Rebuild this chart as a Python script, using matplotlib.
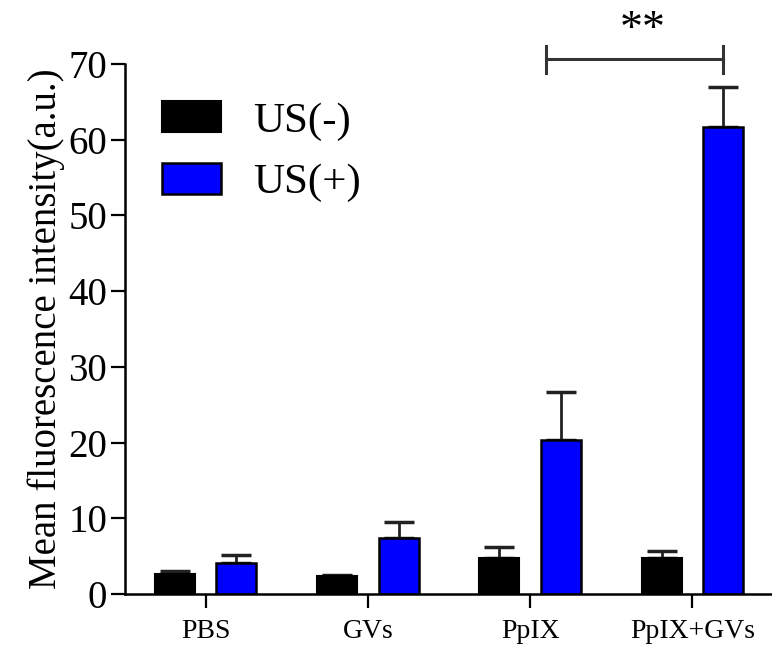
import numpy as np
import matplotlib
matplotlib.use('Agg')
from matplotlib import pyplot as plt

groups = ['PBS', 'GVs', 'PpIX', 'PpIX+GVs']
us_minus = [2.7, 2.35, 4.8, 4.8]
us_minus_err = [0.35, 0.1, 1.4, 0.9]
us_plus = [4.05, 7.45, 20.3, 61.6]
us_plus_err = [1.15, 2.1, 6.4, 5.4]
yticks = [0, 10, 20, 30, 40, 50, 60, 70]

plt.rcParams['font.family'] = ['Liberation Serif', 'DejaVu Serif']

fig = plt.figure(figsize=(7.72, 6.45), dpi=100)
ax = fig.add_axes([0.162, 0.079, 0.838, 0.822])

x = np.arange(len(groups))
w = 0.246
off = 0.19
ax.bar(x - off, us_minus, w, color='black', edgecolor='black', linewidth=1.5, label='US(-)', zorder=2)
ax.bar(x + off, us_plus, w, color='#0000ff', edgecolor='black', linewidth=1.8, label='US(+)', zorder=2)
ax.errorbar(x - off, us_minus, yerr=[np.zeros(4), us_minus_err], fmt='none', ecolor='#222222',
            elinewidth=2, capsize=11, capthick=2.5, zorder=1)
ax.errorbar(x + off, us_plus, yerr=[np.zeros(4), us_plus_err], fmt='none', ecolor='#222222',
            elinewidth=2, capsize=11, capthick=2.5, zorder=1)

ax.set_xlim(-0.496, 3.49)
ax.set_ylim(0, 70)
ax.set_yticks(yticks)
ax.set_xticks(x)
ax.set_xticklabels(groups, fontsize=20)
ax.tick_params(axis='y', labelsize=28, length=10, width=1.6, pad=3)
ax.tick_params(axis='x', length=10, width=1.6, pad=8)
for s in ['top', 'right']:
    ax.spines[s].set_visible(False)
for s in ['left', 'bottom']:
    ax.spines[s].set_linewidth(1.8)
ax.set_ylabel('Mean fluorescence intensity(a.u.)', fontsize=28, labelpad=2)

# significance bracket
bx1, bx2, by = 2.098, 3.19, 70.6
ax.plot([bx1, bx2], [by, by], color='#333333', lw=2.2, clip_on=False)
ax.plot([bx1, bx1], [by - 1.8, by + 1.8], color='#333333', lw=2.2, clip_on=False)
ax.plot([bx2, bx2], [by - 1.8, by + 1.8], color='#333333', lw=2.2, clip_on=False)
ax.text((bx1 + bx2) / 2 + 0.05, by + 1.0, '**', fontsize=33, ha='center', va='bottom', clip_on=False)

leg = ax.legend(loc='upper left', bbox_to_anchor=(0.03, 0.962), fontsize=31, frameon=False,
                handlelength=1.37, handleheight=0.72, handletextpad=0.75, labelspacing=0.52,
                borderaxespad=0)

fig.savefig('out.png', dpi=100)
